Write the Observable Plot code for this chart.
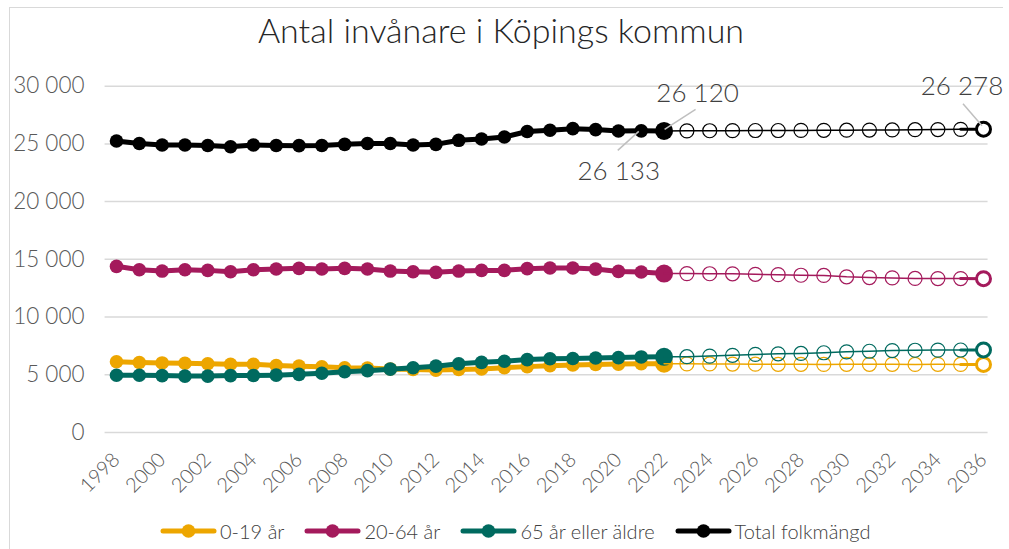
<!DOCTYPE html>
<html><head><meta charset="utf-8">
<script src="https://cdn.jsdelivr.net/npm/d3@7"></script>
<script src="https://cdn.jsdelivr.net/npm/@observablehq/plot@0.6"></script>
<style>
body{margin:0;background:#fff;font-family:Lato,"Noto Sans",sans-serif;}
#wrap{position:relative;width:1009px;height:549px;overflow:hidden;background:#fff;}
#border{position:absolute;left:9px;top:7px;width:993px;height:600px;border-left:1.5px solid #d9d9d9;border-top:1.5px solid #d9d9d9;}
#title{position:absolute;left:0;width:1002px;top:13px;text-align:center;font-size:34px;line-height:34px;font-weight:300;color:#262626;}
#chart{position:absolute;left:0;top:62px;}
#legend{position:absolute;left:160px;top:519px;display:flex;align-items:center;gap:20px;font-size:20px;font-weight:300;color:#404040;}
.item{display:flex;align-items:center;gap:3px;}
</style>
</head><body>
<div id="wrap">
<div id="border"></div>
<div id="title">Antal invånare i Köpings kommun</div>
<div id="chart"></div>
<div id="legend"></div>
</div>
<script>
const seriesNames = ["0-19 år", "20-64 år", "65 år eller äldre", "Total folkmängd"];
const seriesColors = ["#EDA600", "#A41A5C", "#006A5F", "#000000"];

const histYears = [1998,1999,2000,2001,2002,2003,2004,2005,2006,2007,2008,2009,2010,2011,2012,2013,2014,2015,2016,2017,2018,2019,2020,2021,2022];
const hist0_19  = [6120,6060,6020,5990,5950,5900,5900,5800,5740,5690,5600,5580,5500,5460,5400,5450,5500,5600,5700,5780,5850,5880,5920,5950,5950];
const hist20_64 = [14390,14100,13980,14100,14040,13925,14100,14160,14215,14160,14215,14160,13980,13925,13870,13980,14040,14040,14190,14250,14250,14150,13950,13900,13760];
const hist65    = [4950,4950,4920,4880,4880,4920,4930,4960,5030,5120,5250,5350,5480,5600,5740,5940,6070,6170,6310,6380,6400,6450,6480,6540,6550];
const histTotal = [25250,25030,24900,24910,24860,24750,24900,24860,24850,24860,24960,25030,25030,24910,24960,25310,25430,25600,26070,26180,26320,26240,26120,26133,26120];

const projYears = [2022,2023,2024,2025,2026,2027,2028,2029,2030,2031,2032,2033,2034,2035,2036];
const proj0_19  = [5950,5940,5930,5920,5910,5900,5900,5890,5900,5900,5900,5890,5900,5890,5890];
const proj20_64 = [13760,13760,13750,13740,13700,13670,13620,13600,13480,13420,13390,13340,13330,13330,13320];
const proj65    = [6550,6560,6610,6680,6760,6810,6840,6900,6980,7030,7090,7120,7130,7140,7150];
const projTotal = [26120,26130,26140,26150,26160,26160,26170,26180,26190,26200,26210,26230,26240,26260,26278];

const yTicks = [0,5000,10000,15000,20000,25000,30000];
const xTicks = [1998,2000,2002,2004,2006,2008,2010,2012,2014,2016,2018,2020,2022,2024,2026,2028,2030,2032,2034,2036];

const labelYears  = [2021, 2022, 2036];
const labelValues = [26133, 26120, 26278];

// styling for annotation placement (pixel offsets from the point)
const labelStyle = [
  {lx1:-2, ly1:1, lx2:-23, ly2:20, tx:-22, ty:41},
  {lx1:1, ly1:-1, lx2:32, ly2:-21, tx:34, ty:-38},
  {lx1:-1, ly1:-3, lx2:-20, ly2:-25, tx:-21, ty:-43}
];

const locale = d3.formatLocale({decimal:",", thousands:"\u00a0", grouping:[3], currency:["",""]});
const fmt = locale.format(",");

const histArrays = [hist0_19, hist20_64, hist65, histTotal];
const projArrays = [proj0_19, proj20_64, proj65, projTotal];

const marks = [];
marks.push(Plot.ruleY(yTicks, {x1: 1997.5, x2: 2036.2, stroke: "#d9d9d9", strokeWidth: 1.5}));
marks.push(Plot.axisY(yTicks, {tickSize: 0, tickPadding: 32, tickFormat: fmt, fontSize: 22.5, fill: "#595959", fontWeight: 300, label: null}));
marks.push(Plot.axisX(xTicks, {tickSize: 0, tickPadding: 24, tickRotate: -45, tickFormat: d => String(d), fontSize: 20, fill: "#595959", fontWeight: 300, label: null}));

seriesNames.forEach((name, i) => {
  const c = seriesColors[i];
  const rows = histYears.map((yr, j) => ({year: yr, value: histArrays[i][j]}));
  marks.push(Plot.line(rows, {x: "year", y: "value", stroke: c, strokeWidth: 5}));
  marks.push(Plot.dot(rows.slice(0, -1), {x: "year", y: "value", r: 6.8, fill: c}));
  marks.push(Plot.dot(rows.slice(-1), {x: "year", y: "value", r: 9, fill: c}));
});
seriesNames.forEach((name, i) => {
  const c = seriesColors[i];
  const rows = projYears.map((yr, j) => ({year: yr, value: projArrays[i][j]}));
  marks.push(Plot.line(rows, {x: "year", y: "value", stroke: c, strokeWidth: 1.5}));
  marks.push(Plot.line(rows.slice(-2), {x: "year", y: "value", stroke: c, strokeWidth: 3}));
  marks.push(Plot.dot(rows.slice(1, -1), {x: "year", y: "value", r: 7, stroke: c, fill: "none", strokeWidth: 1.2}));
  marks.push(Plot.dot(rows.slice(-1), {x: "year", y: "value", r: 7, stroke: c, fill: "white", strokeWidth: 3}));
});

// annotations with leader lines
marks.push((index, scales) => {
  const g = d3.create("svg:g");
  labelYears.forEach((yr, k) => {
    const px = scales.x(yr), py = scales.y(labelValues[k]);
    const s = labelStyle[k];
    g.append("line").attr("x1", px + s.lx1).attr("y1", py + s.ly1).attr("x2", px + s.lx2).attr("y2", py + s.ly2)
      .attr("stroke", "#bfbfbf").attr("stroke-width", 1.5);
    g.append("text").attr("x", px + s.tx).attr("y", py + s.ty).attr("text-anchor", "middle").attr("dy", "0.35em")
      .attr("font-size", 26).attr("font-weight", 300).attr("fill", "#404040").text(fmt(labelValues[k]));
  });
  return g.node();
});

const chart = Plot.plot({
  width: 1009, height: 447,
  marginLeft: 116, marginRight: 26, marginTop: 23.7, marginBottom: 77.1,
  x: {domain: [1998, 2036], label: null},
  y: {domain: [0, 30000], label: null},
  style: {fontFamily: "Lato, sans-serif", background: "transparent", overflow: "visible"},
  marks
});
document.getElementById("chart").appendChild(chart);

const legend = d3.select("#legend");
seriesNames.forEach((name, i) => {
  const item = legend.append("div").attr("class", "item");
  const svg = item.append("svg").attr("width", 57).attr("height", 20);
  svg.append("line").attr("x1", 3).attr("x2", 54).attr("y1", 10).attr("y2", 10).attr("stroke", seriesColors[i]).attr("stroke-width", 5).attr("stroke-linecap", "round");
  svg.append("circle").attr("cx", 28.5).attr("cy", 10).attr("r", 6.8).attr("fill", seriesColors[i]);
  item.append("span").text(name);
});
</script>
</body></html>
